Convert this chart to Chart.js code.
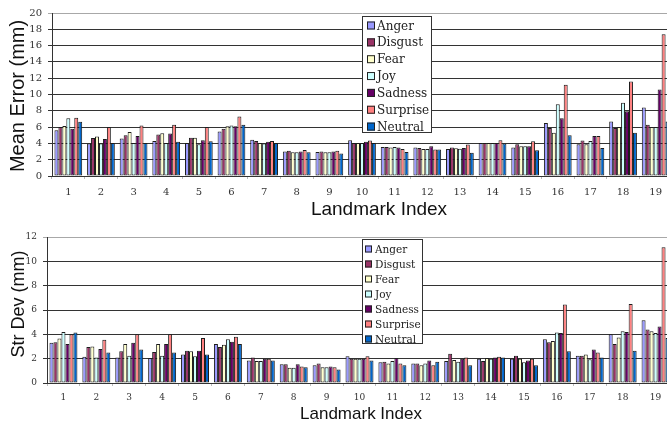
<!DOCTYPE html>
<html>
<head>
<meta charset="utf-8">
<script src="https://cdn.jsdelivr.net/npm/chart.js@4/dist/chart.umd.min.js"></script>
<style>
  html, body { margin: 0; padding: 0; background: #fff; overflow: hidden; }
  #wrap { width: 667px; height: 423px; overflow: hidden; position: relative; }
  .box { position: absolute; left: 0; width: 673px; }
  #topBox { top: 0; height: 220px; }
  #botBox { top: 220px; height: 203px; }
</style>
</head>
<body>
<div id="wrap">
  <div class="box" id="topBox"><canvas id="meanChart"></canvas></div>
  <div class="box" id="botBox"><canvas id="sdChart"></canvas></div>
</div>
<script>
// Landmark indices on the x axis
const landmarks = ['1','2','3','4','5','6','7','8','9','10','11','12','13','14','15','16','17','18','19'];
const emotions = ['Anger', 'Disgust', 'Fear', 'Joy', 'Sadness', 'Surprise', 'Neutral'];
const emotionColors = ['#9999ff', '#993366', '#ffffcc', '#ccffff', '#660066', '#ff8080', '#0066cc'];

// Mean error (mm) per landmark
const meanAnger    = [5.6, 4.0, 4.6, 4.3, 4.05, 5.45, 4.45, 3.0, 2.95, 4.4, 3.55, 3.5, 3.3, 4.05, 3.5, 6.5, 3.9, 6.7, 8.4];
const meanDisgust  = [6.0, 4.65, 5.0, 5.1, 4.7, 5.8, 4.3, 3.1, 3.0, 4.05, 3.55, 3.45, 3.5, 4.05, 3.9, 5.9, 4.35, 5.9, 6.3];
const meanFear     = [6.15, 4.85, 5.4, 5.25, 4.7, 6.1, 4.05, 2.9, 2.9, 4.05, 3.5, 3.3, 3.4, 4.05, 3.65, 5.3, 3.9, 6.0, 6.0];
const meanJoy      = [7.1, 4.0, 4.05, 4.05, 3.9, 6.2, 4.0, 2.9, 2.9, 4.05, 3.55, 3.3, 3.35, 4.05, 3.65, 8.8, 4.3, 9.0, 6.0];
const meanSadness  = [5.8, 4.55, 4.9, 5.2, 4.4, 6.1, 4.2, 3.0, 3.0, 4.2, 3.5, 3.65, 3.45, 4.05, 3.65, 7.1, 4.9, 7.95, 10.6];
const meanSurprise = [7.15, 6.0, 6.2, 6.3, 6.0, 7.3, 4.3, 3.2, 3.1, 4.35, 3.3, 3.25, 3.85, 4.4, 4.25, 11.2, 4.9, 11.6, 17.4];
const meanNeutral  = [6.65, 4.05, 4.05, 4.2, 4.25, 6.3, 4.05, 2.9, 2.75, 4.05, 2.95, 3.25, 2.85, 4.0, 3.15, 5.0, 3.45, 5.3, 6.7];

// Standard deviation (mm) per landmark
const sdAnger    = [3.3, 2.15, 2.1, 2.05, 2.35, 3.2, 1.85, 1.55, 1.45, 2.2, 1.7, 1.6, 1.8, 2.0, 2.0, 3.6, 2.25, 4.0, 5.15];
const sdDisgust  = [3.35, 2.95, 2.6, 2.55, 2.65, 2.95, 2.1, 1.55, 1.6, 2.0, 1.75, 1.6, 2.4, 1.8, 2.25, 3.35, 2.25, 3.2, 4.4];
const sdFear     = [3.65, 3.0, 3.2, 3.2, 2.6, 3.15, 1.8, 1.25, 1.3, 2.0, 1.6, 1.45, 1.9, 2.05, 2.0, 3.45, 2.35, 3.75, 4.25];
const sdJoy      = [4.2, 2.1, 2.25, 2.25, 2.2, 3.6, 1.8, 1.25, 1.3, 2.0, 1.8, 1.6, 1.75, 2.0, 1.7, 4.15, 1.95, 4.25, 4.1];
const sdSadness  = [3.2, 2.8, 3.3, 3.2, 2.65, 3.4, 2.0, 1.55, 1.35, 2.0, 2.05, 1.85, 2.0, 2.1, 1.85, 4.1, 2.75, 4.2, 4.65];
const sdSurprise = [4.0, 3.55, 4.0, 4.0, 3.7, 3.8, 2.0, 1.35, 1.3, 2.2, 1.6, 1.45, 2.1, 2.15, 2.0, 6.45, 2.5, 6.5, 11.15];
const sdNeutral  = [4.15, 2.5, 2.75, 2.5, 2.35, 3.2, 1.85, 1.3, 1.1, 1.85, 1.45, 1.75, 1.45, 2.1, 1.45, 2.6, 2.1, 2.65, 3.7];

const meanSeries = [meanAnger, meanDisgust, meanFear, meanJoy, meanSadness, meanSurprise, meanNeutral];
const sdSeries   = [sdAnger, sdDisgust, sdFear, sdJoy, sdSadness, sdSurprise, sdNeutral];

function makeDatasets(series) {
  return series.map((values, i) => ({
    label: emotions[i],
    data: values,
    backgroundColor: emotionColors[i],
    borderColor: '#1c1c1c',
    borderWidth: 1,
    borderSkipped: false,
    categoryPercentage: 0.85,
    barPercentage: 1.0
  }));
}

// Boxed legend drawn inside the plot, plus the axis titles
const panelDecor = {
  id: 'panelDecor',
  afterDraw(chart, args, opts) {
    const ctx = chart.ctx;
    ctx.save();
    // axis titles
    ctx.fillStyle = '#111';
    ctx.textAlign = 'center';
    ctx.textBaseline = 'middle';
    ctx.font = opts.xTitleFont;
    ctx.fillText(opts.xTitle, opts.xTitlePos[0], opts.xTitlePos[1]);
    ctx.translate(opts.yTitlePos[0], opts.yTitlePos[1]);
    ctx.rotate(-Math.PI / 2);
    ctx.font = opts.yTitleFont;
    ctx.fillText(opts.yTitle, 0, 0);
    ctx.restore();

    // legend box
    const L = opts.legend;
    ctx.save();
    ctx.fillStyle = '#fff';
    ctx.fillRect(L.x, L.y, L.w, L.h);
    ctx.strokeStyle = '#333';
    ctx.lineWidth = 1;
    ctx.strokeRect(L.x + 0.5, L.y + 0.5, L.w - 1, L.h - 1);
    ctx.font = L.font;
    ctx.textAlign = 'left';
    ctx.textBaseline = 'middle';
    chart.data.datasets.forEach((ds, i) => {
      const cy = L.firstRow + i * L.rowGap;
      ctx.fillStyle = ds.backgroundColor;
      ctx.fillRect(L.swX, cy - L.sw / 2, L.sw, L.sw);
      ctx.strokeStyle = '#222';
      ctx.strokeRect(L.swX + 0.5, cy - L.sw / 2 + 0.5, L.sw - 1, L.sw - 1);
      ctx.fillStyle = '#222';
      ctx.fillText(ds.label, L.textX, cy + 1);
    });
    ctx.restore();
  }
};

function makeChart(canvasId, series, cfg) {
  return new Chart(document.getElementById(canvasId), {
    type: 'bar',
    data: { labels: landmarks, datasets: makeDatasets(series) },
    plugins: [panelDecor],
    options: {
      responsive: true,
      maintainAspectRatio: false,
      animation: false,
      events: [],
      layout: { padding: { top: cfg.padTop, right: 1, left: 0, bottom: 0 } },
      plugins: {
        legend: { display: false },
        tooltip: { enabled: false },
        panelDecor: cfg.decor
      },
      scales: {
        x: {
          afterFit(scale) { scale.height = cfg.xAxisHeight; },
          grid: {
            display: true,
            drawOnChartArea: false,
            offset: true,
            tickLength: 3,
            color: '#bbb'
          },
          border: { display: true, color: '#333', width: 1 },
          ticks: {
            color: '#333',
            font: { family: 'DejaVu Serif', size: cfg.tickSize },
            padding: cfg.xTickPad,
            maxRotation: 0,
            autoSkip: false
          }
        },
        y: {
          min: 0,
          max: cfg.yMax,
          afterFit(scale) { scale.width = cfg.yAxisWidth; },
          grid: {
            color: c => (c.tick && c.tick.value === cfg.yMax) ? '#a8a8a8' : '#333',
            lineWidth: 1,
            tickLength: 4
          },
          border: { display: true, color: '#333', width: 1 },
          ticks: {
            stepSize: 2,
            color: '#333',
            padding: 6,
            font: { family: 'DejaVu Serif', size: cfg.tickSize }
          }
        }
      }
    }
  });
}

makeChart('meanChart', meanSeries, {
  padTop: 13, xAxisHeight: 44, yAxisWidth: 52, yMax: 20, tickSize: 10, xTickPad: 7,
  decor: {
    xTitle: 'Landmark Index', xTitleFont: '19px "Liberation Sans"', xTitlePos: [379, 210],
    yTitle: 'Mean Error (mm)', yTitleFont: '20px "Liberation Sans"', yTitlePos: [18, 96],
    legend: { x: 362, y: 16, w: 70, h: 117, font: '12px "DejaVu Serif"',
              firstRow: 25.5, rowGap: 16.85, swX: 367, sw: 8, textX: 377 }
  }
});

makeChart('sdChart', sdSeries, {
  padTop: 17, xAxisHeight: 40, yAxisWidth: 47, yMax: 12, tickSize: 9, xTickPad: 6,
  decor: {
    xTitle: 'Landmark Index', xTitleFont: '17px "Liberation Sans"', xTitlePos: [361, 194],
    yTitle: 'Str Dev (mm)', yTitleFont: '18px "Liberation Sans"', yTitlePos: [19, 84],
    legend: { x: 362, y: 19, w: 61, h: 105, font: '10.5px "DejaVu Serif"',
              firstRow: 29, rowGap: 15, swX: 365, sw: 7, textX: 375 }
  }
});
</script>
</body>
</html>
